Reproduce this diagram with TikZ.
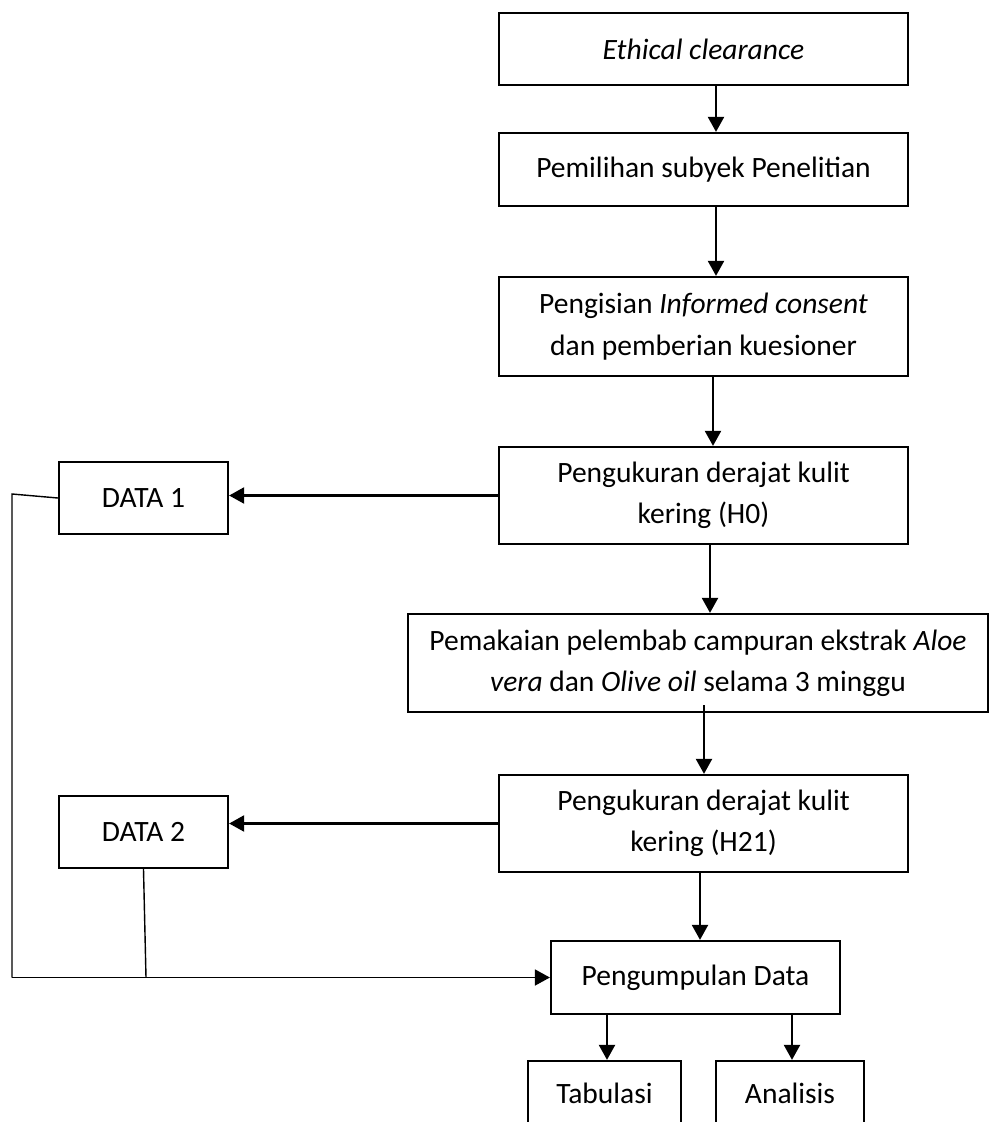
\documentclass[tikz,border=0pt]{standalone}
\usepackage{fontspec}
\setmainfont{Carlito}
\usepackage{tikz}
\usetikzlibrary{arrows.meta, positioning, calc}

\tikzset{
  kotak/.style={draw, line width=1.3pt, align=center, inner sep=0pt, minimum width=8.18cm},
  panah/.style={-{Triangle[length=3mm, width=3.2mm]}, line width=1.3pt},
  garis/.style={line width=0.8pt}
}

\begin{document}
\begin{tikzpicture}[x=0.02cm, y=-0.02cm, font=\fontsize{16.8}{23.5}\selectfont]
  \useasboundingbox (0,0) rectangle (992,1122);
  \clip (0,0) rectangle (992,1122);

  % Main column
  \node[kotak, minimum height=1.44cm] (ethic) at (703.5, 49) {\textit{Ethical clearance}};
  \node[kotak, minimum height=1.46cm] (pilih) at (703.5, 169.5) {Pemilihan subyek Penelitian};
  \node[kotak, minimum height=1.98cm] (consent) at (703.5, 326.5) {Pengisian \textit{Informed consent}\\dan pemberian kuesioner};
  \node[kotak, minimum height=1.94cm] (ukur0) at (703.5, 495.5) {Pengukuran derajat kulit\\kering (H0)};
  \node[kotak, minimum width=11.6cm, minimum height=1.96cm] (pakai) at (698, 663) {Pemakaian pelembab campuran ekstrak \textit{Aloe}\\\textit{vera} dan \textit{Olive oil} selama 3 minggu};
  \node[kotak, minimum height=1.94cm] (ukur21) at (703.5, 823.5) {Pengukuran derajat kulit\\kering (H21)};
  \node[kotak, minimum width=5.78cm, minimum height=1.46cm] (kumpul) at (695.5, 977.5) {Pengumpulan Data};

  % Row at bottom (cut by page edge)
  \node[kotak, minimum width=3.06cm, minimum height=1.28cm] (tabulasi) at (604.5, 1093) {Tabulasi};
  \node[kotak, minimum width=2.96cm, minimum height=1.28cm] (analisis) at (790, 1093) {Analisis};

  % Data boxes - left
  \node[kotak, minimum width=3.38cm, minimum height=1.44cm] (data1) at (143.5, 498) {DATA 1};
  \node[kotak, minimum width=3.38cm, minimum height=1.44cm] (data2) at (143.5, 832) {DATA 2};

  % Arrows down the column
  \draw[panah] ([xshift=0.25cm]ethic.south) -- ([xshift=0.25cm]pilih.north);
  \draw[panah] ([xshift=0.25cm]pilih.south) -- ([xshift=0.25cm]consent.north);
  \draw[panah] ([xshift=0.19cm]consent.south) -- ([xshift=0.19cm]ukur0.north);
  \draw[panah] ([xshift=0.13cm]ukur0.south) -- ([xshift=0.13cm]ukur0.south |- pakai.north);
  \draw[panah] ([shift={(0.12cm,0.16cm)}]pakai.south) -- ([xshift=0.12cm]pakai.south |- ukur21.north);
  \draw[panah] ([xshift=-0.07cm]ukur21.south) -- ([xshift=-0.07cm]ukur21.south |- kumpul.north);
  \draw[panah] ([xshift=0.05cm]tabulasi.north |- kumpul.south) -- ([xshift=0.05cm]tabulasi.north);
  \draw[panah] ([xshift=0.04cm]analisis.north |- kumpul.south) -- ([xshift=0.04cm]analisis.north);

  % Arrows to data boxes
  \draw[panah] (ukur0.west) -- (ukur0.west -| data1.east);
  \draw[panah] (ukur21.west) -- (ukur21.west -| data2.east);

  % Collecting lines
  \coordinate (kiri) at (12, 494);
  \coordinate (temu) at (146, 977.5);
  \draw[garis] (data1.west) -- (kiri) -- (kiri |- kumpul.west);
  \draw[garis] (data2.south) -- (temu);
  \draw[panah, line width=1pt] (kiri |- kumpul.west) -- (kumpul.west);
\end{tikzpicture}
\end{document}
